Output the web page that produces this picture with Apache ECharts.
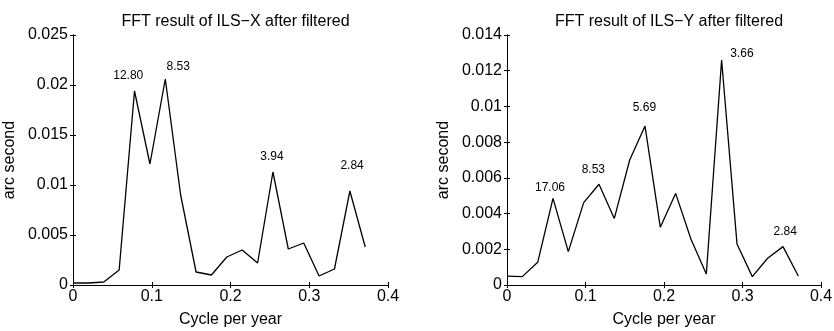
<!DOCTYPE html>
<html>
<head>
<meta charset="utf-8">
<script src="https://cdn.jsdelivr.net/npm/echarts@6/dist/echarts.min.js"></script>
<style>
  html, body { margin: 0; padding: 0; background: #fff; }
  #chart { width: 834px; height: 331px; }
</style>
</head>
<body>
<div id="chart"></div>
<script>
// frequency bins (cycle per year), step = 1/51.2
const freqs = [0, 0.0195, 0.0391, 0.0586, 0.0781, 0.0977, 0.1172, 0.1367, 0.1563, 0.1758,
  0.1953, 0.2148, 0.2344, 0.2539, 0.2734, 0.2930, 0.3125, 0.3320, 0.3516, 0.3711];

const ampX = [0.0002, 0.0002, 0.0003, 0.0015, 0.0194, 0.0121, 0.0206, 0.0090, 0.0013, 0.0010,
  0.0028, 0.0035, 0.0022, 0.0113, 0.0036, 0.0042, 0.0009, 0.0016, 0.0094, 0.0038];

const ampY = [0.0005, 0.00047, 0.00127, 0.00485, 0.00187, 0.00461, 0.00564, 0.00373, 0.0070, 0.0089,
  0.00323, 0.00513, 0.00256, 0.00062, 0.0126, 0.0023, 0.00047, 0.0015, 0.00215, 0.0005];

// period labels placed in data coordinates
const notesX = [["12.80", 0.0702, 0.0209], ["8.53", 0.1336, 0.0218], ["3.94", 0.2526, 0.0128], ["2.84", 0.3544, 0.0119]];
const notesY = [["17.06", 0.0548, 0.00545], ["8.53", 0.110, 0.00644], ["5.69", 0.175, 0.00991],
  ["3.66", 0.2994, 0.01294], ["2.84", 0.3545, 0.00297]];

const titles = ["FFT result of ILS\u2212X after filtered", "FFT result of ILS\u2212Y after filtered"];
const yMax = [0.025, 0.014];
const yStep = [0.005, 0.002];

const FONT = "Liberation Sans";
const chart = echarts.init(document.getElementById("chart"));

const grids = [
  { left: 73, top: 35, width: 315, height: 250, outerBoundsMode: "none", containLabel: false },
  { left: 507, top: 35, width: 314, height: 250, outerBoundsMode: "none", containLabel: false },
];

function fmtY(v) {
  if (v === 0) return "0";
  return String(+v.toFixed(3));
}

const xAxis = [];
const yAxis = [];
grids.forEach((g, i) => {
  xAxis.push({
    type: "value", gridIndex: i, min: 0, max: 0.4, interval: 0.1,
    name: "Cycle per year", nameLocation: "middle", nameGap: 27,
    nameTextStyle: { fontFamily: FONT, fontSize: 16, color: "#000" },
    axisLine: { show: true, lineStyle: { color: "#000", width: 1 } },
    axisTick: { inside: true, length: 3, lineStyle: { color: "#000" } },
    axisLabel: { fontFamily: FONT, fontSize: 16, color: "#000", margin: 4, formatter: (v) => v === 0 ? "0" : String(+v.toFixed(1)) },
    splitLine: { show: false },
  });
  xAxis.push({
    type: "value", gridIndex: i, position: "top", min: 0, max: 0.4, interval: 0.1,
    axisLine: { show: true, lineStyle: { color: "#000", width: 1 } },
    axisTick: { inside: true, length: 3, lineStyle: { color: "#000" } },
    axisLabel: { show: false }, splitLine: { show: false },
  });
  yAxis.push({
    type: "value", gridIndex: i, min: 0, max: yMax[i], interval: yStep[i],
    name: "arc second", nameLocation: "middle", nameGap: 55, nameRotate: 90,
    nameTextStyle: { fontFamily: FONT, fontSize: 16, color: "#000" },
    axisLine: { show: true, lineStyle: { color: "#000", width: 1 } },
    axisTick: { inside: true, length: 3, lineStyle: { color: "#000" } },
    axisLabel: { fontFamily: FONT, fontSize: 16, color: "#000", margin: 5, formatter: fmtY },
    splitLine: { show: false },
  });
  yAxis.push({
    type: "value", gridIndex: i, position: "right", min: 0, max: yMax[i], interval: yStep[i],
    axisLine: { show: true, lineStyle: { color: "#000", width: 1 } },
    axisTick: { inside: true, length: 3, lineStyle: { color: "#000" } },
    axisLabel: { show: false }, splitLine: { show: false },
  });
});

const series = [];
[ampX, ampY].forEach((amp, i) => {
  series.push({
    type: "line", xAxisIndex: i * 2, yAxisIndex: i * 2,
    data: freqs.map((f, k) => [f, amp[k]]),
    symbol: "none", lineStyle: { color: "#000", width: 1.3 }, animation: false,
  });
});
[notesX, notesY].forEach((notes, i) => {
  series.push({
    type: "scatter", xAxisIndex: i * 2, yAxisIndex: i * 2,
    data: notes.map((n) => ({ value: [n[1], n[2]], name: n[0] })),
    symbolSize: 0, animation: false, silent: true,
    itemStyle: { opacity: 1, color: "#000" },
    label: {
      show: true, position: "inside", formatter: (p) => p.name,
      fontFamily: FONT, fontSize: 12, color: "#000", opacity: 1,
    },
  });
});

chart.setOption({
  backgroundColor: "#fff",
  animation: false,
  title: titles.map((t, i) => ({
    text: t,
    left: grids[i].left + grids[i].width / 2,
    textAlign: "center",
    top: 9,
    textStyle: { fontFamily: FONT, fontSize: 16, fontWeight: "normal", color: "#000" },
  })),
  grid: grids,
  xAxis: xAxis,
  yAxis: yAxis,
  series: series,
});
</script>
</body>
</html>
